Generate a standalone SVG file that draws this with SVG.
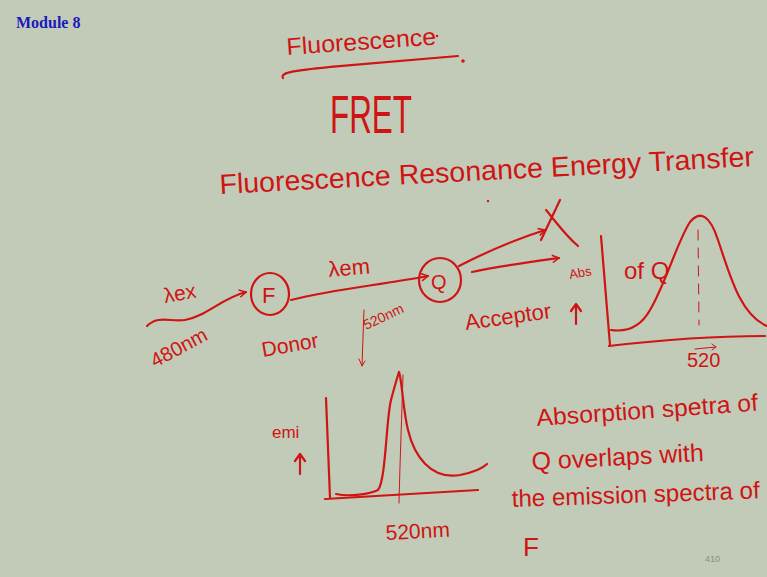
<svg xmlns="http://www.w3.org/2000/svg" width="767" height="577" viewBox="0 0 767 577">
<defs>
<style>
.bg{fill:#c2cbb8}
.hw{font-family:"Liberation Sans",Arial,sans-serif;fill:#cf1414}
.ln{fill:none;stroke:#cf1414;stroke-width:2.2;stroke-linecap:round;stroke-linejoin:round}
.thin{fill:none;stroke:#cf1414;stroke-width:1;stroke-linecap:round}
</style>
<marker id="ah" viewBox="0 0 12 12" refX="10" refY="6" markerWidth="9" markerHeight="9" markerUnits="userSpaceOnUse" orient="auto">
<path d="M1,1 L10,6 L1,11" fill="none" stroke="#cf1414" stroke-width="2"/>
</marker>
</defs>
<rect class="bg" x="0" y="0" width="767" height="577"/>
<text x="16" y="28" font-family="Liberation Serif,serif" font-weight="bold" font-size="16" fill="#1a1ab8">Module 8</text>

<g id="title">
<text class="hw" x="287" y="55" font-size="24" transform="rotate(-4 287 55)" textLength="150" lengthAdjust="spacingAndGlyphs">Fluorescence</text>
<circle cx="437" cy="36" r="1.2" fill="#cf1414"/>
<path class="ln" d="M283,78 C279,72 300,70 330,67 C380,63 430,58 458,56"/>
<circle cx="463" cy="61" r="1.8" fill="#cf1414"/>
<text class="hw" x="330" y="133" font-size="54" textLength="82" lengthAdjust="spacingAndGlyphs">FRET</text>
<text class="hw" x="220" y="194" font-size="28" transform="rotate(-3 220 194)" textLength="535" lengthAdjust="spacingAndGlyphs">Fluorescence Resonance Energy Transfer</text>
<circle cx="488" cy="201" r="1.2" fill="#cf1414"/>
</g>

<g id="excitation">
<text class="hw" x="165" y="303" font-size="21" transform="rotate(-10 165 303)">λex</text>
<path class="ln" d="M147,326 C158,315 170,322 185,320 C205,317 222,298 246,292" marker-end="url(#ah)"/>
<text class="hw" x="155" y="368" font-size="20" transform="rotate(-28 155 368)">480nm</text>
</g>

<g id="donor">
<ellipse class="ln" cx="270" cy="294" rx="19" ry="21"/>
<text class="hw" x="262" y="303" font-size="22">F</text>
<text class="hw" x="263" y="357" font-size="21" transform="rotate(-10 263 357)">Donor</text>
</g>

<g id="acceptor">
<ellipse class="ln" cx="440" cy="280" rx="21" ry="22"/>
<text class="hw" x="431" y="289" font-size="20">Q</text>
<text class="hw" x="466" y="330" font-size="22" transform="rotate(-8 466 330)">Acceptor</text>
</g>

<g id="connectors">
<path class="ln" d="M291,300 C330,290 380,285 428,276" marker-end="url(#ah)"/>
<text class="hw" x="329" y="277" font-size="22" transform="rotate(-5 329 277)">λem</text>
<text class="hw" x="366" y="330" font-size="14" transform="rotate(-25 366 330)">520nm</text>
<path class="thin" d="M364,310 L362,366 M359,359 L362,366 L365,361"/>
<path class="ln" d="M459,266 C490,250 520,238 545,230" marker-end="url(#ah)"/>
<path class="ln" d="M541,240 L560,200 M546,210 C556,222 566,236 578,246" stroke-width="2"/>
<path class="ln" d="M472,272 C500,266 530,262 559,258" marker-end="url(#ah)"/>
</g>

<g id="absorption-plot">
<text class="hw" x="570" y="279" font-size="13" transform="rotate(-10 570 279)">Abs</text>
<path class="ln" d="M576,324 L576,305 M571,311 L576,304 L581,311"/>
<path class="ln" d="M601,236 L610,345 M609,346 C660,340 710,336 765,336"/>
<path class="ln" d="M611,330 C625,332 640,328 650,310 C665,285 678,240 690,222 C700,210 710,215 718,240 C730,275 740,315 767,326"/>
<path class="thin" d="M698,230 L699,325" stroke-dasharray="10,8" stroke-width="1.5"/>
<text class="hw" x="624" y="279" font-size="24">of Q</text>
<text class="hw" x="687" y="367" font-size="20">520</text>
<path class="thin" d="M695,349 L716,347 M712,344 L716,347 L712,350"/>
</g>

<g id="emission-plot">
<text class="hw" x="272" y="438" font-size="17">emi</text>
<path class="ln" d="M300,474 L300,455 M295,461 L300,454 L305,461"/>
<path class="ln" d="M326,398 L330,498 M325,499 C380,496 430,493 478,490"/>
<path class="ln" d="M336,494 C350,497 370,494 378,490 C386,480 386,420 391,400 C395,385 398,375 399,372 C402,380 403,410 408,430 C414,455 430,480 460,475 C475,472 483,468 487,464"/>
<path class="thin" d="M403,375 C402,410 400,460 399,503"/>
<text class="hw" x="386" y="540" font-size="21" transform="rotate(-3 386 540)">520nm</text>
</g>

<g id="note">
<text class="hw" x="537" y="426" font-size="24" transform="rotate(-4 537 426)" textLength="222" lengthAdjust="spacingAndGlyphs">Absorption spetra of</text>
<text class="hw" x="532" y="470" font-size="25" transform="rotate(-3 532 470)">Q overlaps with</text>
<text class="hw" x="512" y="507" font-size="24" transform="rotate(-2 512 507)" textLength="248" lengthAdjust="spacingAndGlyphs">the emission spectra of</text>
<text class="hw" x="523" y="556" font-size="26">F</text>
</g>
<text x="705" y="562" font-family="Liberation Sans,sans-serif" font-size="9" fill="#8a8f85">410</text>
</svg>
